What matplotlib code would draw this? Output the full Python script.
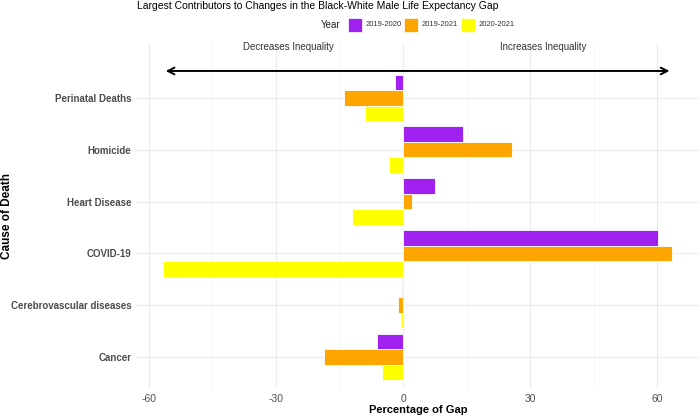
import numpy as np
import matplotlib
matplotlib.use("Agg")
import matplotlib.pyplot as plt
from matplotlib.patches import Rectangle

plt.rcParams['font.family'] = ['Liberation Sans', 'DejaVu Sans']
plt.rcParams['axes.unicode_minus'] = False

# data, bottom to top as in the chart
causes = ["Cancer", "Cerebrovascular diseases", "COVID-19",
          "Heart Disease", "Homicide", "Perinatal Deaths"]
years = ["2019-2020", "2019-2021", "2020-2021"]
gap_2019_2020 = [-6.2, -0.3, 60.2, 7.5, 14.0, -1.9]
gap_2019_2021 = [-18.7, -1.2, 63.5, 2.1, 25.7, -14.0]
gap_2020_2021 = [-5.1, -0.6, -56.7, -12.0, -3.3, -8.9]
colors = ["#A020F0", "#FFA500", "#FFFF00"]

series = [gap_2019_2020, gap_2019_2021, gap_2020_2021]
offsets = [0.3, 0.0, -0.3]

fig = plt.figure(figsize=(7, 4.16), dpi=100)
ax = fig.add_axes([137/700, 1 - 388/416, 562/700, 345/416])

y = np.arange(1, len(causes) + 1)
for vals, off, col in zip(series, offsets, colors):
    ax.barh(y + off, vals, height=0.3, color=col, edgecolor="white",
            linewidth=0.6, zorder=3)

# arrow spanning the data range
lo = min(min(s) for s in series)
hi = max(max(s) for s in series)
ax.annotate("", xy=(lo, 6.52), xytext=(hi, 6.52),
            arrowprops=dict(arrowstyle="<->", color="black", lw=1.4,
                            mutation_scale=12), zorder=4)
ax.text(-27, 6.99, "Decreases Inequality", ha="center", va="center",
        fontsize=7, color="#333333", clip_on=False)
ax.text(33, 6.99, "Increases Inequality", ha="center", va="center",
        fontsize=7, color="#333333", clip_on=False)

ax.set_xlim(-62.8, 69.8)
ax.set_ylim(0.4, 7.06)
ax.set_xticks([-60, -30, 0, 30, 60])
ax.set_xticks([-45, -15, 15, 45], minor=True)
ax.set_yticks(y)
ax.set_yticklabels(causes, fontweight="bold")
ax.tick_params(axis="both", which="both", length=0, colors="#4D4D4D")
ax.tick_params(axis="y", labelsize=7, pad=4)
ax.tick_params(axis="x", labelsize=7.5, pad=4)
ax.grid(which="major", color="#EBEBEB", lw=0.8, zorder=0)
ax.grid(which="minor", axis="x", color="#F3F3F3", lw=0.5, zorder=0)
for sp in ax.spines.values():
    sp.set_visible(False)

fig.text((137 + 699) / 2 / 700, 1 - 410/416, "Percentage of Gap", ha="center",
         va="center", fontsize=8, fontweight="bold")
fig.text(7/700, 1 - 216/416, "Cause of Death", rotation=90, ha="center",
         va="center", fontsize=8.5, fontweight="bold")

fig.text(137/700, 1 - 6/416,
         "Largest Contributors to Changes in the Black-White Male Life Expectancy Gap",
         ha="left", va="center", fontsize=7.5, color="black")

# legend
fig.text(331/700, 1 - 25/416, "Year", ha="center", va="center", fontsize=7,
         color="#222222")
key_x = [348, 404, 461]
for kx, col, lab in zip(key_x, colors, years):
    fig.patches.append(Rectangle((kx/700, 1 - 32/416), 14/700, 14/416,
                                 transform=fig.transFigure, facecolor=col,
                                 edgecolor="white", lw=0.5))
    fig.text((kx + 18)/700, 1 - 25/416, lab, ha="left", va="center",
             fontsize=5.5, color="#333333")

fig.savefig("out.png", dpi=100)
